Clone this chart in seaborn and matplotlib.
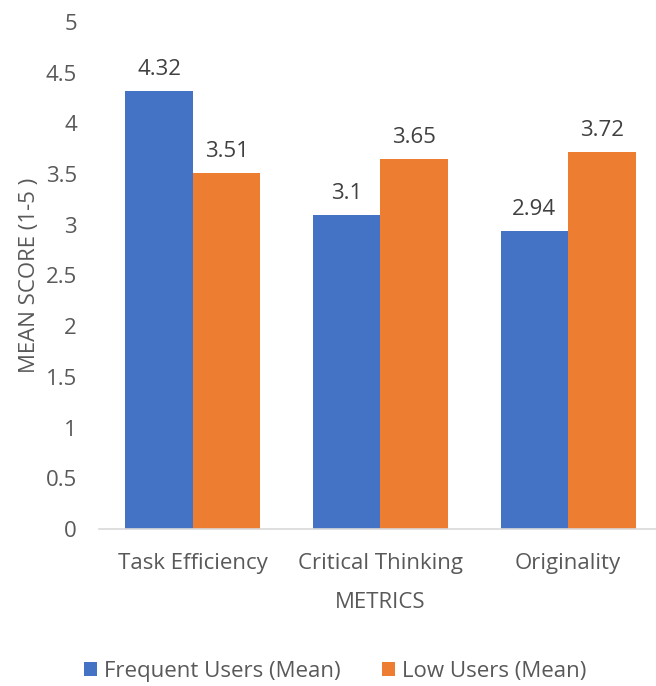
import matplotlib
matplotlib.use("Agg")
import matplotlib.pyplot as plt
import seaborn as sns
import pandas as pd

categories = ["Task Efficiency", "Critical Thinking", "Originality"]
series_names = ["Frequent Users (Mean)", "Low Users (Mean)"]
frequent = [4.32, 3.10, 2.94]
low = [3.51, 3.65, 3.72]
value_labels = [["4.32", "3.1", "2.94"], ["3.51", "3.65", "3.72"]]
yticks = [0, 0.5, 1, 1.5, 2, 2.5, 3, 3.5, 4, 4.5, 5]
ytick_labels = ["0", "0.5", "1", "1.5", "2", "2.5", "3", "3.5", "4", "4.5", "5"]

df = pd.DataFrame({
    "Metric": categories * 2,
    "Series": [series_names[0]] * 3 + [series_names[1]] * 3,
    "Score": frequent + low,
})

sns.set_theme(style="white")
plt.rcParams["font.family"] = ["Open Sans", "DejaVu Sans"]
text_color = "#595959"
fs = 16

fig = plt.figure(figsize=(6.56, 6.86), dpi=100)
ax = fig.add_axes([0.151, 0.2289, 0.858, 0.739])

sns.barplot(data=df, x="Metric", y="Score", hue="Series", order=categories,
            hue_order=series_names, palette=["#4472C4", "#ED7D31"],
            width=0.72, gap=0, ax=ax, legend=True, saturation=1, linewidth=0)

ax.set_ylim(0, 5)
ax.set_xlim(-0.5, 2.5)
ax.set_yticks(yticks)
ax.set_yticklabels(ytick_labels)
ax.tick_params(axis="both", length=0, colors=text_color, labelsize=fs)
ax.tick_params(axis="y", pad=16)
ax.tick_params(axis="x", pad=17)

for s in ["top", "right", "left"]:
    ax.spines[s].set_visible(False)
ax.spines["bottom"].set_color("#D9D9D9")
ax.spines["bottom"].set_linewidth(1.2)

for cont, labs in zip(ax.containers, value_labels):
    ax.bar_label(cont, labels=labs, padding=8, fontsize=fs, color="#404040")

ax.set_xlabel("METRICS", fontsize=fs, color=text_color, labelpad=13)
ax.set_ylabel("MEAN SCORE (1-5 )", fontsize=fs, color=text_color, labelpad=4)

handles, labels = ax.get_legend_handles_labels()
ax.legend_.remove()
fig.legend(handles, labels, loc="center", bbox_to_anchor=(0.511, 0.021), ncol=2,
           frameon=False, fontsize=fs, handlelength=0.6, handleheight=0.6,
           columnspacing=1.85, handletextpad=0.3, labelcolor=text_color)

fig.savefig("out.png", dpi=100)
